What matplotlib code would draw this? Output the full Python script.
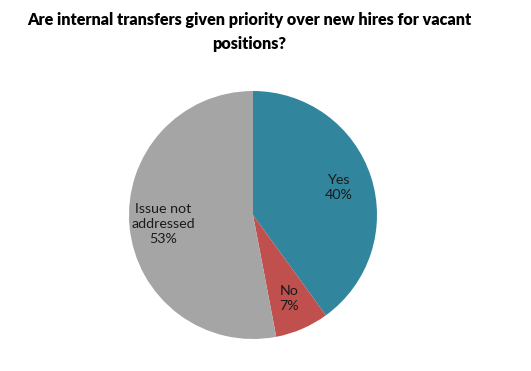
import matplotlib.pyplot as plt

labels = ['Yes', 'No', 'Issue not\naddressed']
shares = [40, 7, 53]
colors = ['#31859C', '#C0504D', '#A5A5A5']
title = 'Are internal transfers given priority over new hires for vacant\npositions?'


def main():
    plt.rcParams['font.family'] = ['Lato', 'DejaVu Sans']
    fig = plt.figure(figsize=(5.31, 3.71), dpi=100)
    ax = fig.add_axes([129 / 531, 32 / 371, 248 / 531, 248 / 371])
    texts = ['{0}\n{1}%'.format(l, s) for l, s in zip(labels, shares)]
    ax.pie(shares, labels=texts, colors=colors, startangle=90, counterclock=False,
           labeldistance=0.73, radius=1.0,
           textprops={'ha': 'center', 'va': 'center', 'fontsize': 10.3,
                      'linespacing': 1.3, 'color': '#1a1a1a'})
    ax.set_xlim(-1, 1)
    ax.set_ylim(-1, 1)
    ax.set_aspect('equal')
    fig.text(249 / 531, 1 - 32 / 371, title, ha='center', va='center', fontsize=11.6,
             fontweight='heavy', linespacing=1.55)
    fig.savefig('out.png', dpi=100)


if __name__ == '__main__':
    main()
